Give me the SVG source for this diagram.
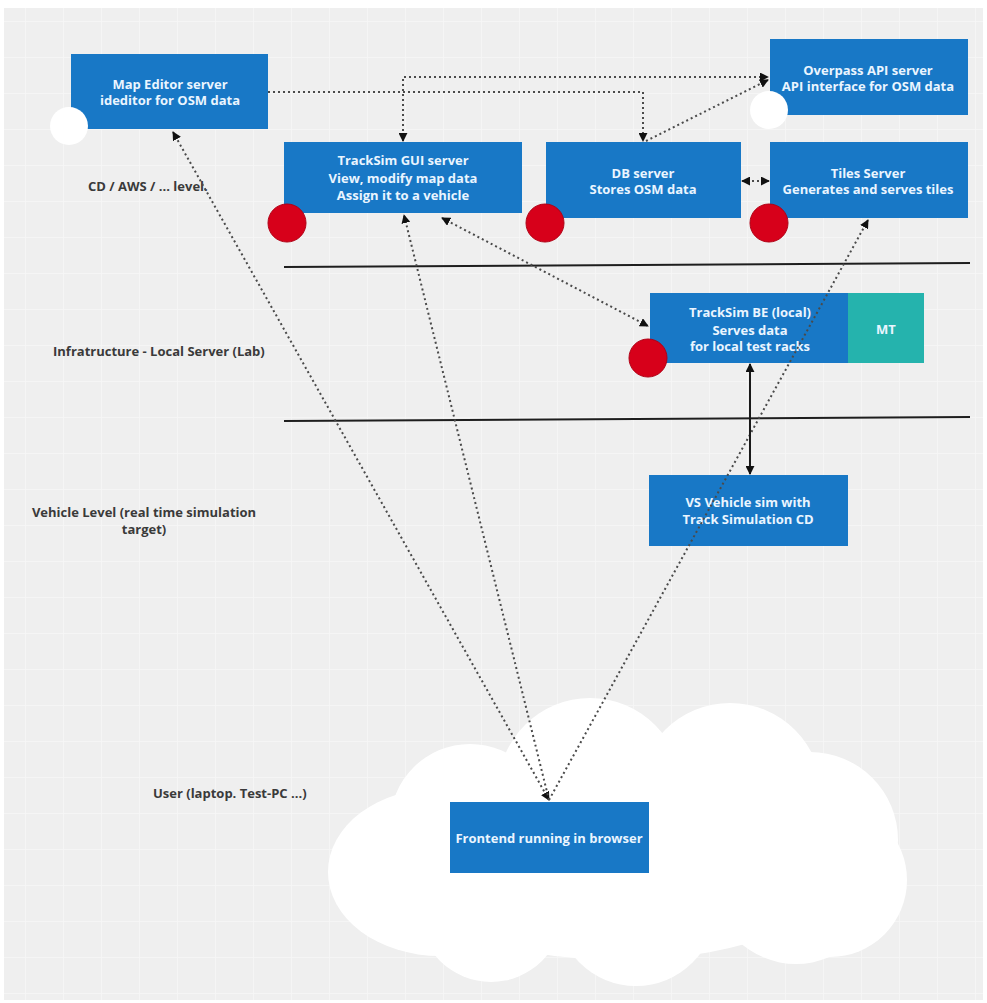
<svg xmlns="http://www.w3.org/2000/svg" width="987" height="1003" viewBox="0 0 987 1003">
  <style>
    .box { fill: #1878c6; }
    .mt { fill: #25b3ad; }
    .btxt { font-family: "Open Sans", "Liberation Sans", sans-serif; font-weight: bold; font-size: 13px; fill: #eaf5ff; text-anchor: middle; }
    .lbl { font-family: "Open Sans", "Liberation Sans", sans-serif; font-weight: bold; font-size: 13px; fill: #3a3a3a; }
    .dot { fill: none; stroke: #4a4a4a; stroke-width: 2; stroke-dasharray: 2 3; }
    .solid { fill: none; stroke: #1a1a1a; stroke-width: 2; }
    .sep { stroke: #1e1e1e; stroke-width: 2; }
    .red { fill: #d7001a; stroke: #b00014; stroke-width: 1; }
    .wht { fill: #ffffff; }
    .cloud { fill: #ffffff; }
  </style>
  <defs>
    <pattern id="grid" x="25" y="21" width="38" height="36" patternUnits="userSpaceOnUse">
      <path d="M0,0 V36 M0,0 H38" stroke="#f7f7f7" stroke-width="1.5" fill="none"/>
    </pattern>
    <marker id="arr" viewBox="0 0 10 10" refX="9" refY="5" markerWidth="9" markerHeight="9" markerUnits="userSpaceOnUse" orient="auto-start-reverse">
      <path d="M0,0 L10,5 L0,10 z" fill="#111"/>
    </marker>
  </defs>

  <!-- canvas -->
  <rect x="0" y="0" width="987" height="1003" fill="#ffffff"/>
  <rect x="4" y="8" width="979" height="992" fill="#efefef"/>
  <rect x="4" y="8" width="979" height="992" fill="url(#grid)"/>

  <!-- level separators -->
  <g id="separators">
    <line class="sep" x1="284" y1="267" x2="970" y2="263"/>
    <line class="sep" x1="284" y1="421" x2="970" y2="417"/>
  </g>

  <!-- level labels -->
  <g id="labels">
    <text class="lbl" x="88" y="191">CD / AWS / ... level.</text>
    <text class="lbl" x="53" y="356">Infratructure - Local Server (Lab)</text>
    <text class="lbl" x="144" y="517" text-anchor="middle">Vehicle Level (real time simulation</text>
    <text class="lbl" x="144" y="534" text-anchor="middle">target)</text>
    <text class="lbl" x="153" y="798">User (laptop. Test-PC ...)</text>
  </g>

  <!-- user cloud -->
  <g id="cloud">
    <ellipse class="cloud" cx="440" cy="872" rx="112" ry="84"/>
    <circle class="cloud" cx="470" cy="824" r="80"/>
    <circle class="cloud" cx="590" cy="790" r="92"/>
    <circle class="cloud" cx="730" cy="795" r="92"/>
    <circle class="cloud" cx="810" cy="840" r="88"/>
    <circle class="cloud" cx="830" cy="880" r="77"/>
    <circle class="cloud" cx="796" cy="880" r="84"/>
    <circle class="cloud" cx="491" cy="910" r="72"/>
    <circle class="cloud" cx="636" cy="906" r="80"/>
    <ellipse class="cloud" cx="620" cy="860" rx="230" ry="100"/>
  </g>

  <!-- nodes -->
  <g id="map-editor">
    <rect class="box" x="71" y="54" width="197" height="75"/>
    <text class="btxt" x="170" y="89">Map Editor server</text>
    <text class="btxt" x="170" y="105">ideditor for OSM data</text>
    <circle class="wht" cx="69" cy="126" r="19"/>
  </g>

  <g id="overpass">
    <rect class="box" x="770" y="39" width="198" height="76"/>
    <text class="btxt" x="868" y="75">Overpass API server</text>
    <text class="btxt" x="868" y="91">API interface for OSM data</text>
    <circle class="wht" cx="769" cy="110" r="19"/>
  </g>

  <g id="gui-server">
    <rect class="box" x="284" y="142" width="238" height="71"/>
    <text class="btxt" x="403" y="165">TrackSim GUI server</text>
    <text class="btxt" x="403" y="183">View, modify map data</text>
    <text class="btxt" x="403" y="200">Assign it to a vehicle</text>
    <circle class="red" cx="287" cy="223" r="19"/>
  </g>

  <g id="db-server">
    <rect class="box" x="546" y="142" width="195" height="76"/>
    <text class="btxt" x="643" y="178">DB server</text>
    <text class="btxt" x="643" y="194">Stores OSM data</text>
    <circle class="red" cx="545" cy="223" r="19"/>
  </g>

  <g id="tiles-server">
    <rect class="box" x="770" y="142" width="198" height="76"/>
    <text class="btxt" x="868" y="178">Tiles Server</text>
    <text class="btxt" x="868" y="194">Generates and serves tiles</text>
    <circle class="red" cx="769" cy="223" r="19"/>
  </g>

  <g id="tracksim-be">
    <rect class="box" x="650" y="293" width="199" height="70"/>
    <rect class="mt" x="848" y="293" width="76" height="70"/>
    <text class="btxt" x="750" y="317">TrackSim BE (local)</text>
    <text class="btxt" x="750" y="335">Serves data</text>
    <text class="btxt" x="750" y="351">for local test racks</text>
    <text class="btxt" x="886" y="334">MT</text>
    <circle class="red" cx="648" cy="358" r="19"/>
  </g>

  <g id="vehicle-sim">
    <rect class="box" x="649" y="475" width="199" height="71"/>
    <text class="btxt" x="748" y="507">VS Vehicle sim with</text>
    <text class="btxt" x="748" y="524">Track Simulation CD</text>
  </g>

  <g id="frontend">
    <rect class="box" x="450" y="802" width="199" height="71"/>
    <text class="btxt" x="549" y="843">Frontend running in browser</text>
  </g>

  <!-- connectors -->
  <g id="connectors">
    <path class="dot" d="M268,92 H643 V141" marker-end="url(#arr)"/>
    <path class="dot" d="M403,141 V77 H768" marker-start="url(#arr)" marker-end="url(#arr)"/>
    <path class="dot" d="M646,141 L768,80" marker-end="url(#arr)"/>
    <path class="dot" d="M742,181 H769" marker-start="url(#arr)" marker-end="url(#arr)"/>
    <path class="dot" d="M442,218 L648,326" marker-start="url(#arr)" marker-end="url(#arr)"/>
    <path class="dot" d="M549,800 L173,132" marker-start="url(#arr)" marker-end="url(#arr)"/>
    <path class="dot" d="M549,800 L404,215" marker-end="url(#arr)"/>
    <path class="dot" d="M549,800 L868,220" marker-end="url(#arr)"/>
    <path class="solid" d="M750,364 V474" marker-start="url(#arr)" marker-end="url(#arr)"/>
  </g>
</svg>
